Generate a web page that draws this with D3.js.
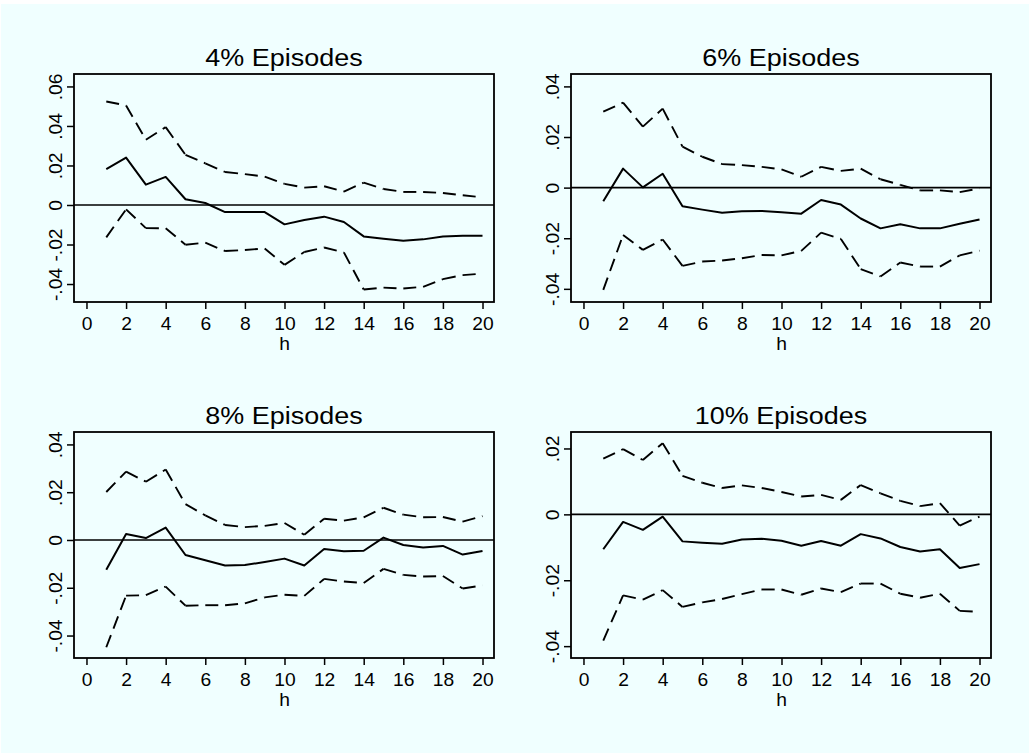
<!DOCTYPE html>
<html>
<head>
<meta charset="utf-8">
<script src="https://cdn.jsdelivr.net/npm/d3@7"></script>
<style>
  html, body { margin: 0; padding: 0; background: #ffffff; }
  svg { display: block; }
  text { font-family: "Liberation Sans", Arial, Helvetica, sans-serif; fill: #000; }
</style>
</head>
<body>
<script>
// Impulse responses by horizon h, with upper and lower confidence bands
const horizons = [1, 2, 3, 4, 5, 6, 7, 8, 9, 10, 11, 12, 13, 14, 15, 16, 17, 18, 19, 20];
const xTickValues = [0, 2, 4, 6, 8, 10, 12, 14, 16, 18, 20];
const panelTitles = ["4% Episodes", "6% Episodes", "8% Episodes", "10% Episodes"];
const xAxisTitle = "h";

const est4 = [0.0181, 0.0240, 0.0103, 0.0142, 0.0029, 0.0010, -0.0036, -0.0036, -0.0036, -0.0098, -0.0076, -0.0059, -0.0086, -0.0159, -0.0171, -0.0181, -0.0174, -0.0159, -0.0156, -0.0156];
const hi4  = [0.0524, 0.0504, 0.0330, 0.0394, 0.0254, 0.0211, 0.0167, 0.0156, 0.0144, 0.0107, 0.0088, 0.0095, 0.0068, 0.0113, 0.0081, 0.0066, 0.0066, 0.0061, 0.0049, 0.0039];
const lo4  = [-0.0164, -0.0022, -0.0117, -0.0118, -0.0201, -0.0191, -0.0233, -0.0228, -0.0220, -0.0303, -0.0238, -0.0215, -0.0240, -0.0428, -0.0418, -0.0423, -0.0414, -0.0375, -0.0355, -0.0347];

const est6 = [-0.0054, 0.0075, 0.0001, 0.0055, -0.0074, -0.0087, -0.0099, -0.0093, -0.0092, -0.0097, -0.0103, -0.0049, -0.0067, -0.0122, -0.0161, -0.0145, -0.0161, -0.0161, -0.0143, -0.0126];
const hi6  = [0.0300, 0.0336, 0.0241, 0.0312, 0.0162, 0.0122, 0.0093, 0.0089, 0.0082, 0.0072, 0.0043, 0.0082, 0.0066, 0.0075, 0.0033, 0.0011, -0.0011, -0.0011, -0.0018, -0.0003];
const lo6  = [-0.0404, -0.0187, -0.0246, -0.0205, -0.0309, -0.0292, -0.0288, -0.0279, -0.0266, -0.0268, -0.0250, -0.0178, -0.0203, -0.0322, -0.0351, -0.0296, -0.0312, -0.0312, -0.0268, -0.0249];

const est8 = [-0.0125, 0.0025, 0.0008, 0.0052, -0.0063, -0.0085, -0.0107, -0.0105, -0.0092, -0.0078, -0.0107, -0.0038, -0.0047, -0.0045, 0.0010, -0.0021, -0.0031, -0.0025, -0.0061, -0.0046];
const hi8  = [0.0201, 0.0286, 0.0244, 0.0295, 0.0150, 0.0103, 0.0063, 0.0054, 0.0059, 0.0071, 0.0022, 0.0089, 0.0081, 0.0095, 0.0135, 0.0106, 0.0095, 0.0096, 0.0077, 0.0100];
const lo8  = [-0.0449, -0.0233, -0.0231, -0.0195, -0.0275, -0.0273, -0.0273, -0.0265, -0.0240, -0.0229, -0.0234, -0.0163, -0.0174, -0.0180, -0.0121, -0.0146, -0.0153, -0.0151, -0.0203, -0.0190];

const est10 = [-0.0106, -0.0023, -0.0047, -0.0007, -0.0082, -0.0086, -0.0089, -0.0076, -0.0074, -0.0080, -0.0095, -0.0081, -0.0095, -0.0060, -0.0073, -0.0099, -0.0113, -0.0106, -0.0163, -0.0151];
const hi10  = [0.0169, 0.0198, 0.0165, 0.0216, 0.0117, 0.0096, 0.0080, 0.0088, 0.0080, 0.0068, 0.0054, 0.0059, 0.0044, 0.0089, 0.0064, 0.0041, 0.0025, 0.0034, -0.0034, -0.0007];
const lo10  = [-0.0383, -0.0246, -0.0259, -0.0230, -0.0281, -0.0267, -0.0257, -0.0242, -0.0228, -0.0228, -0.0244, -0.0225, -0.0236, -0.0210, -0.0210, -0.0241, -0.0253, -0.0241, -0.0293, -0.0296];

const yTicks4  = [-0.04, -0.02, 0, 0.02, 0.04, 0.06];
const yTicks6  = [-0.04, -0.02, 0, 0.02, 0.04];
const yTicks8  = [-0.04, -0.02, 0, 0.02, 0.04];
const yTicks10 = [-0.04, -0.02, 0, 0.02];

// Panel frames (pixels) and the value range spanned by each frame
const W = 1029, H = 753;
const xDomain = [-0.63, 20.58];
const panels = [
  { title: panelTitles[0], est: est4,  hi: hi4,  lo: lo4,  ticks: yTicks4,  left: 74,  right: 494, top: 74,  bottom: 302, yDomain: [-0.0491, 0.0663] },
  { title: panelTitles[1], est: est6,  hi: hi6,  lo: lo6,  ticks: yTicks6,  left: 571, right: 991, top: 74,  bottom: 302, yDomain: [-0.0452, 0.0449] },
  { title: panelTitles[2], est: est8,  hi: hi8,  lo: lo8,  ticks: yTicks8,  left: 74,  right: 494, top: 432, bottom: 658, yDomain: [-0.0494, 0.0452] },
  { title: panelTitles[3], est: est10, hi: hi10, lo: lo10, ticks: yTicks10, left: 571, right: 991, top: 432, bottom: 658, yDomain: [-0.0436, 0.0250] }
];

// Stata-style numbers: ".02", "-.04", "0"
function stataFmt(v) {
  if (Math.abs(v) < 1e-12) return "0";
  const s = Math.abs(v).toFixed(2).replace(/^0/, "");
  return (v < 0 ? "-" : "") + s;
}

const textStretch = 1.1;

const svg = d3.select("body").append("svg").attr("width", W).attr("height", H);

svg.append("rect")
  .attr("x", 1).attr("y", 4).attr("width", W - 1).attr("height", H - 4)
  .attr("fill", "#f0ffff");

panels.forEach(p => {
  const x = d3.scaleLinear().domain(xDomain).range([p.left, p.right]);
  const y = d3.scaleLinear().domain(p.yDomain).range([p.bottom, p.top]);
  const g = svg.append("g");

  // bottom axis
  const xAxis = g.append("g")
    .attr("transform", `translate(0,${p.bottom})`)
    .call(d3.axisBottom(x).tickValues(xTickValues).tickSize(7).tickPadding(9).tickFormat(d3.format("d")));
  xAxis.select(".domain").remove();
  xAxis.selectAll(".tick line").attr("stroke", "#000").attr("stroke-width", 1.5);
  xAxis.selectAll(".tick text")
    .attr("font-size", 17.5)
    .attr("font-family", "Liberation Sans, Arial, sans-serif")
    .attr("transform", `scale(${textStretch},1)`);

  // left axis with rotated labels
  const yAxis = g.append("g")
    .attr("transform", `translate(${p.left},0)`)
    .call(d3.axisLeft(y).tickValues(p.ticks).tickSize(7).tickFormat(stataFmt));
  yAxis.select(".domain").remove();
  yAxis.selectAll(".tick line").attr("stroke", "#000").attr("stroke-width", 1.5);
  yAxis.selectAll(".tick text")
    .attr("x", 0).attr("dy", 0)
    .attr("text-anchor", "middle")
    .attr("font-size", 17.5)
    .attr("font-family", "Liberation Sans, Arial, sans-serif")
    .attr("transform", `translate(-12.5,0) rotate(-90) scale(${textStretch},1)`);

  // axis title
  g.append("text")
    .attr("transform", `translate(${(x(0) + x(20)) / 2},${p.bottom + 48}) scale(${textStretch},1)`)
    .attr("text-anchor", "middle")
    .attr("font-size", 17.5)
    .text(xAxisTitle);

  // panel title
  g.append("text")
    .attr("transform", `translate(${(p.left + p.right) / 2},${p.top - 8}) scale(${textStretch},1)`)
    .attr("text-anchor", "middle")
    .attr("font-size", 24.5)
    .text(p.title);

  // zero reference line
  g.append("line")
    .attr("x1", p.left).attr("x2", p.right)
    .attr("y1", y(0)).attr("y2", y(0))
    .attr("stroke", "#000").attr("stroke-width", 1.6);

  const segLine = d3.line().x(d => x(d[0])).y(d => y(d[1]));

  // confidence bands: dashed, each segment dashed from its own start
  [p.hi, p.lo].forEach(band => {
    const pts = horizons.map((h, i) => [h, band[i]]);
    g.append("g").selectAll("path")
      .data(d3.pairs(pts))
      .join("path")
      .attr("d", segLine)
      .attr("fill", "none")
      .attr("stroke", "#000")
      .attr("stroke-width", 1.9)
      .attr("stroke-dasharray", "13,7");
  });

  // point estimate
  g.append("path")
    .datum(horizons.map((h, i) => [h, p.est[i]]))
    .attr("d", segLine)
    .attr("fill", "none")
    .attr("stroke", "#000")
    .attr("stroke-width", 2)
    .attr("stroke-linejoin", "round");

  // plot frame
  g.append("rect")
    .attr("x", p.left).attr("y", p.top)
    .attr("width", p.right - p.left).attr("height", p.bottom - p.top)
    .attr("fill", "none").attr("stroke", "#000").attr("stroke-width", 1.8);
});
</script>
</body>
</html>
